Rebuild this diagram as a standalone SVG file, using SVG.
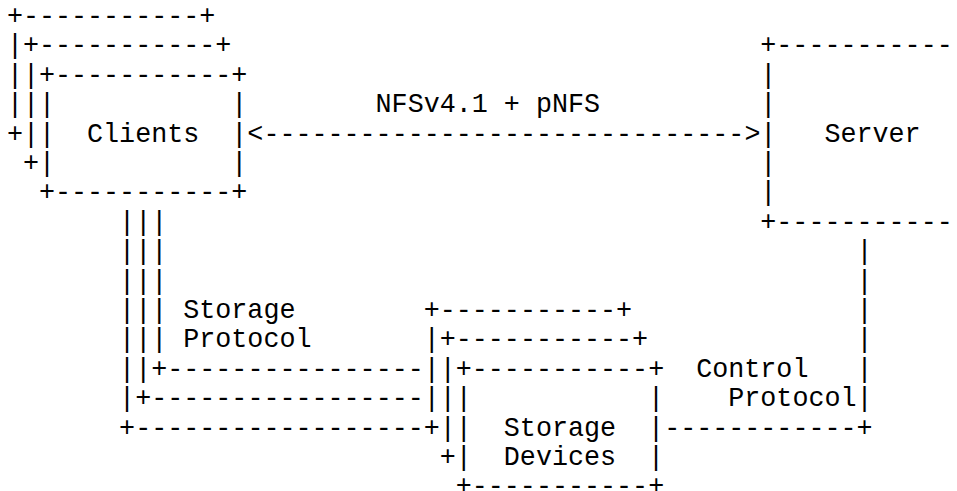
<svg xmlns="http://www.w3.org/2000/svg" width="957" height="491" viewBox="0 0 957 491">
<style>
.t{font-family:"Liberation Mono","Courier New",monospace;font-size:26.72px;fill:#000}
</style>
<rect width="957" height="491" fill="#fff"/>
<g id="clients" class="t">
<text x="6.9" y="24">+-----------+</text>
<text x="6.9" y="53.4">|+-----------+</text>
<text x="6.9" y="82.8">||+-----------+</text>
<text x="6.9" y="112.2">|||</text>
<text x="231.32" y="112.2">|</text>
<text x="6.9" y="141.6">+||</text>
<text x="87.05" y="141.6">Clients</text>
<text x="231.32" y="141.6">|</text>
<text x="22.93" y="171">+|</text>
<text x="231.32" y="171">|</text>
<text x="38.96" y="200.4">+-----------+</text>
</g>
<g id="server" class="t">
<text x="760.31" y="53.4">+-----------</text>
<text x="760.31" y="82.8">|</text>
<text x="760.31" y="112.2">|</text>
<text x="760.31" y="141.6">|</text>
<text x="824.43" y="141.6">Server</text>
<text x="760.31" y="171">|</text>
<text x="760.31" y="200.4">|</text>
<text x="760.31" y="229.8">+-----------</text>
</g>
<g id="storage-devices" class="t">
<text x="423.68" y="318">+-----------+</text>
<text x="423.68" y="347.4">|+-----------+</text>
<text x="423.68" y="376.8">||+-----------+</text>
<text x="423.68" y="406.2">|||</text>
<text x="648.1" y="406.2">|</text>
<text x="423.68" y="435.6">+||</text>
<text x="503.83" y="435.6">Storage</text>
<text x="648.1" y="435.6">|</text>
<text x="439.71" y="465">+|</text>
<text x="503.83" y="465">Devices</text>
<text x="648.1" y="465">|</text>
<text x="455.74" y="494.4">+-----------+</text>
</g>
<g id="connectors" class="t">
<text x="375.59" y="112.2">NFSv4.1</text>
<text x="503.83" y="112.2">+</text>
<text x="535.89" y="112.2">pNFS</text>
<text x="247.35" y="141.6">&lt;------------------------------&gt;</text>
<text x="119.11" y="229.8">|||</text>
<text x="119.11" y="259.2">|||</text>
<text x="119.11" y="288.6">|||</text>
<text x="119.11" y="318">|||</text>
<text x="183.23" y="318">Storage</text>
<text x="119.11" y="347.4">|||</text>
<text x="183.23" y="347.4">Protocol</text>
<text x="119.11" y="376.8">||+----------------</text>
<text x="119.11" y="406.2">|+-----------------</text>
<text x="119.11" y="435.6">+------------------</text>
<text x="856.49" y="259.2">|</text>
<text x="856.49" y="288.6">|</text>
<text x="856.49" y="318">|</text>
<text x="856.49" y="347.4">|</text>
<text x="696.19" y="376.8">Control</text>
<text x="856.49" y="376.8">|</text>
<text x="728.25" y="406.2">Protocol|</text>
<text x="664.13" y="435.6">------------+</text>
</g>
</svg>
